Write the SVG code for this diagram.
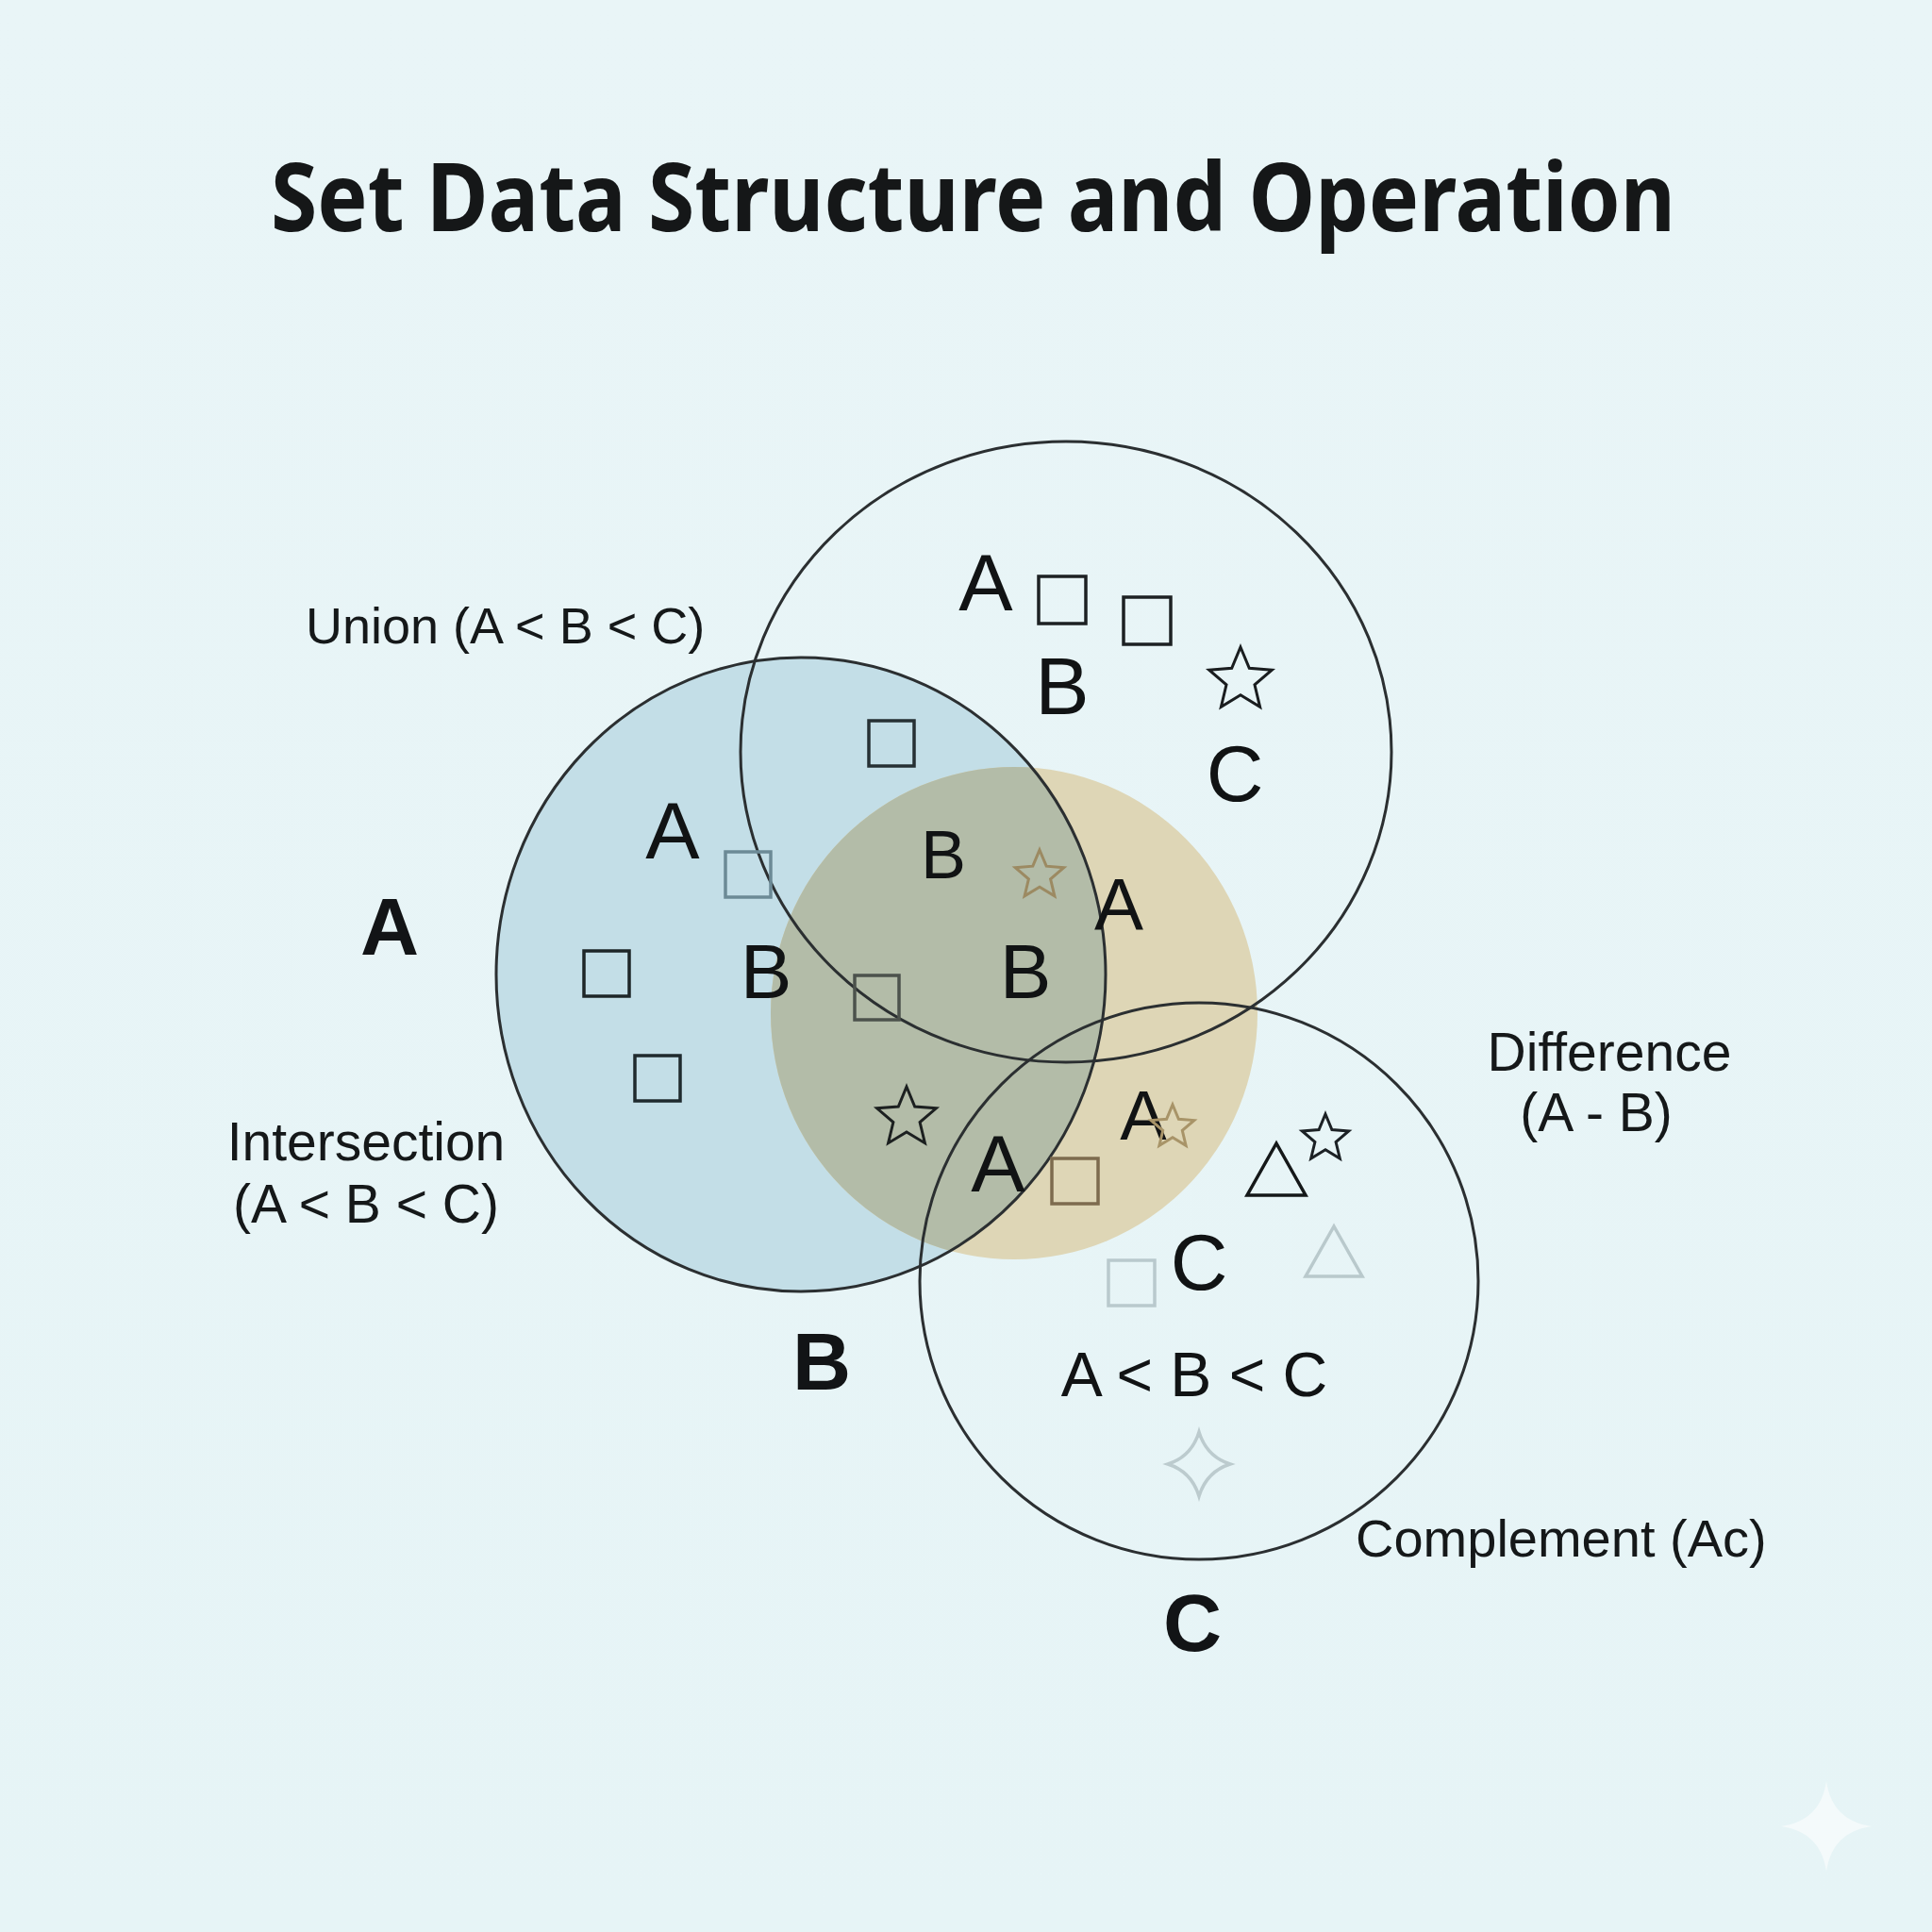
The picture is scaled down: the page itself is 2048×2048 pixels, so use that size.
<svg xmlns="http://www.w3.org/2000/svg" width="2048" height="2048" viewBox="0 0 2048 2048">
<defs>
<style>
.ring{fill:none;stroke:#2b2f31;stroke-width:3}
.lbl{font-family:"Liberation Sans",Arial,sans-serif;fill:#151819}
.big{font-family:"Liberation Sans",Arial,sans-serif;fill:#111314;text-anchor:middle}
.bold{font-family:"Liberation Sans",Arial,sans-serif;font-weight:700;fill:#121416;text-anchor:middle}
.sq{fill:none;stroke-width:3.5}
.st{fill:none;stroke-width:3;stroke-linejoin:miter}
</style>
<clipPath id="clipTan"><ellipse cx="1075" cy="1074" rx="258" ry="261"/></clipPath>
<linearGradient id="bg" x1="0" y1="0" x2="0" y2="1">
<stop offset="0" stop-color="#e9f5f7"/>
<stop offset="1" stop-color="#e6f4f6"/>
</linearGradient>
</defs>
<rect width="2048" height="2048" fill="url(#bg)"/>
<text x="287" y="245" font-family="'Noto Sans','Open Sans',sans-serif" font-weight="700" font-size="100" fill="#151718" textLength="1489" lengthAdjust="spacingAndGlyphs">Set Data Structure and Operation</text>

<g id="fills">
<ellipse cx="849" cy="1033" rx="323" ry="336" fill="#c3dee7"/>
<ellipse cx="1075" cy="1074" rx="258" ry="261" fill="#ded6b6"/>
<ellipse cx="849" cy="1033" rx="323" ry="336" fill="#b3bca8" clip-path="url(#clipTan)"/>
</g>

<g id="connectors"></g>

<g id="set-A-circle"><ellipse class="ring" cx="849" cy="1033" rx="323" ry="336"/></g>
<g id="set-B-circle"><ellipse class="ring" cx="1130" cy="797" rx="345" ry="329"/></g>
<g id="set-C-circle"><ellipse class="ring" cx="1271" cy="1358" rx="296" ry="295"/></g>

<g id="labels">
<text class="lbl" x="324" y="682" font-size="54">Union (A &lt; B &lt; C)</text>
<text class="lbl" x="388" y="1230" font-size="57" text-anchor="middle">Intersection</text>
<text class="lbl" x="388" y="1296" font-size="57" text-anchor="middle">(A &lt; B &lt; C)</text>
<text class="lbl" x="1706" y="1135" font-size="57" text-anchor="middle">Difference</text>
<text class="lbl" x="1692" y="1199" font-size="57" text-anchor="middle">(A - B)</text>
<text class="lbl" x="1437" y="1650" font-size="56">Complement (Ac)</text>
<text class="bold" x="413" y="1012" font-size="86">A</text>
<text class="bold" x="871" y="1473" font-size="86">B</text>
<text class="bold" x="1264" y="1750" font-size="86">C</text>
</g>

<g id="elements">
<text class="big" x="1045" y="647" font-size="86">A</text>
<text class="big" x="1126" y="757" font-size="86">B</text>
<text class="big" x="1309" y="849" font-size="84">C</text>
<text class="big" x="713" y="910" font-size="86">A</text>
<text class="big" x="1000" y="931" font-size="72">B</text>
<text class="big" x="1186" y="986" font-size="78">A</text>
<text class="big" x="812" y="1058" font-size="82">B</text>
<text class="big" x="1087" y="1058" font-size="82">B</text>
<text class="big" x="1212" y="1208" font-size="74">A</text>
<text class="big" x="1058" y="1263" font-size="86">A</text>
<text class="big" x="1271" y="1367" font-size="84">C</text>
<text class="big" x="1266" y="1480" font-size="66">A &lt; B &lt; C</text>

<rect class="sq" x="1101" y="611" width="50" height="50" stroke="#1d2123"/>
<rect class="sq" x="1191" y="633" width="50" height="50" stroke="#1d2123"/>
<rect class="sq" x="921" y="764" width="48" height="48" stroke="#263034"/>
<rect class="sq" x="769" y="903" width="48" height="48" stroke="#6c8a96"/>
<rect class="sq" x="619" y="1008" width="48" height="48" stroke="#1e2628"/>
<rect class="sq" x="906" y="1034" width="47" height="47" stroke="#4c524c"/>
<rect class="sq" x="673" y="1119" width="48" height="48" stroke="#1f2a2e"/>
<rect class="sq" x="1115" y="1228" width="49" height="48" stroke="#7d6b4e"/>
<rect class="sq" x="1175" y="1336" width="49" height="48" stroke="#b9c9cd"/>

<polygon class="st" stroke="#1a1d1f" points="1315,686 1324.3,708.3 1348.3,710.2 1330,725.9 1335.6,749.3 1315,736.8 1294.4,749.3 1300,725.9 1281.7,710.2 1305.7,708.3"/>
<polygon class="st" stroke="#9c8a62" points="1102,901 1109.2,918.2 1127.7,919.7 1113.6,931.8 1117.9,949.8 1102,940.2 1086.1,949.8 1090.4,931.8 1076.3,919.7 1094.8,918.2"/>
<polygon class="st" stroke="#1c2020" points="961,1152 969.7,1173 992.4,1174.8 975.1,1189.6 980.4,1211.7 961,1199.9 941.6,1211.7 946.9,1189.6 929.6,1174.8 952.3,1173"/>
<polygon class="st" stroke="#a89468" points="1243,1171 1249.4,1186.3 1265.8,1187.6 1253.3,1198.3 1257.1,1214.4 1243,1205.8 1228.9,1214.4 1232.7,1198.3 1220.2,1187.6 1236.6,1186.3"/>
<polygon class="st" stroke="#1c2125" points="1405,1181 1411.9,1197.5 1429.7,1199 1416.1,1210.6 1420.3,1228 1405,1218.7 1389.7,1228 1393.9,1210.6 1380.3,1199 1398.1,1197.5"/>

<polygon points="1322,1267 1384,1267 1353,1212" fill="none" stroke="#151819" stroke-width="3.5"/>
<polygon points="1384,1353 1444,1353 1414,1300" fill="none" stroke="#b9c9cc" stroke-width="3.5"/>
<path d="M1271,1518 Q1279,1544 1304,1552 Q1279,1560 1271,1586 Q1263,1560 1238,1552 Q1263,1544 1271,1518Z" fill="none" stroke="#bccbce" stroke-width="3.5"/>
</g>

<path id="sparkle" d="M1936,1888 C1940,1916 1956,1932 1984,1936 C1956,1940 1940,1956 1936,1984 C1932,1956 1916,1940 1888,1936 C1916,1932 1932,1916 1936,1888Z" fill="#f4fafb"/>
</svg>
